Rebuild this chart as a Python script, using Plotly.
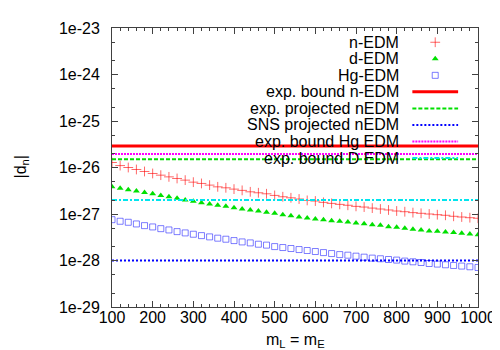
import plotly.graph_objects as go

# x grid: m_L = m_E
M = [100, 120, 140, 160, 180, 200, 220, 240, 260, 280, 300, 320, 340, 360, 380, 400,
     420, 440, 460, 480, 500, 520, 540, 560, 580, 600, 620, 640, 660, 680, 700,
     720, 740, 760, 780, 800, 820, 840, 860, 880, 900, 920, 940, 960, 980, 1000]

N_EDM = [1.28e-26, 1.10e-26, 1.00e-26, 9.06e-27, 8.21e-27, 7.44e-27, 6.84e-27, 6.29e-27,
         5.81e-27, 5.35e-27, 4.84e-27, 4.54e-27, 4.18e-27, 3.84e-27, 3.66e-27, 3.43e-27,
         3.22e-27, 3.00e-27, 2.86e-27, 2.72e-27, 2.51e-27, 2.35e-27, 2.23e-27, 2.10e-27,
         1.96e-27, 1.90e-27, 1.78e-27, 1.69e-27, 1.61e-27, 1.54e-27, 1.46e-27, 1.41e-27,
         1.34e-27, 1.28e-27, 1.22e-27, 1.16e-27, 1.12e-27, 1.07e-27, 1.035e-27, 1.00e-27,
         9.66e-28, 9.38e-28, 8.93e-28, 8.62e-28, 8.33e-28, 8.09e-28]

D_EDM = [3.84e-27, 3.60e-27, 3.31e-27, 3.11e-27, 2.91e-27, 2.72e-27, 2.51e-27, 2.35e-27,
         2.17e-27, 1.99e-27, 1.87e-27, 1.75e-27, 1.64e-27, 1.54e-27, 1.46e-27, 1.36e-27,
         1.28e-27, 1.22e-27, 1.16e-27, 1.09e-27, 1.035e-27, 9.66e-28, 9.20e-28, 8.62e-28,
         8.21e-28, 7.81e-28, 7.55e-28, 7.19e-28, 6.98e-28, 6.74e-28, 6.42e-28, 6.20e-28,
         5.90e-28, 5.73e-28, 5.35e-28, 5.19e-28, 4.94e-28, 4.70e-28, 4.54e-28, 4.33e-28,
         4.26e-28, 4.12e-28, 3.98e-28, 3.86e-28, 3.73e-28, 3.60e-28]

HG_EDM = [7.55e-28, 6.98e-28, 6.64e-28, 6.11e-28, 5.62e-28, 5.27e-28, 4.84e-28, 4.54e-28,
          4.18e-28, 3.92e-28, 3.67e-28, 3.43e-28, 3.22e-28, 3.02e-28, 2.87e-28, 2.68e-28,
          2.51e-28, 2.39e-28, 2.24e-28, 2.14e-28, 1.99e-28, 1.90e-28, 1.81e-28, 1.72e-28,
          1.64e-28, 1.56e-28, 1.48e-28, 1.41e-28, 1.34e-28, 1.30e-28, 1.24e-28, 1.18e-28,
          1.125e-28, 1.09e-28, 1.05e-28, 1.02e-28, 9.71e-29, 9.38e-29, 9.06e-29, 8.62e-29,
          8.37e-29, 8.09e-29, 7.82e-29, 7.59e-29, 7.33e-29, 7.08e-29]

# horizontal bounds
BOUND_N = 2.9e-26
PROJ_N = 1.5e-26
SNS_N = 1.0e-28
BOUND_HG = 1.95e-26
BOUND_D = 2.0e-27

Y_TICKS = [1e-23, 1e-24, 1e-25, 1e-26, 1e-27, 1e-28, 1e-29]
Y_TICKTEXT = ["1e-23", "1e-24", "1e-25", "1e-26", "1e-27", "1e-28", "1e-29"]
X_TICKS = [100, 200, 300, 400, 500, 600, 700, 800, 900, 1000]

RED, GREEN, BLUE, MAGENTA, CYAN = "#ff0000", "#00e000", "#0000ff", "#ff00ff", "#00e5ee"
FONT = "Liberation Sans, Arial, sans-serif"
AXC = "#404040"

PL, PR, PT, PB = 104, 28, 19, 51
W, H = 500, 350
PW, PH = W - PL - PR, H - PT - PB

POINTS = [
    ("n-EDM", N_EDM, dict(symbol="cross-thin", size=7, color="rgba(255,0,0,0.6)",
                          line=dict(color="rgba(255,0,0,0.6)", width=1))),
    ("d-EDM", D_EDM, dict(symbol="triangle-up", size=6, color=GREEN, line=dict(width=0))),
    ("Hg-EDM", HG_EDM, dict(symbol="square-open", size=6, color="rgba(40,40,255,0.6)",
                            line=dict(width=1))),
]
LINES = [
    ("exp. bound n-EDM", BOUND_N, dict(color=RED, width=3)),
    ("exp. projected nEDM", PROJ_N, dict(color=GREEN, width=2, dash="4px,2px")),
    ("SNS projected nEDM", SNS_N, dict(color=BLUE, width=2, dash="2px,2px")),
    ("exp. bound Hg EDM", BOUND_HG, dict(color=MAGENTA, width=2, dash="2px,1px")),
    ("exp. bound D EDM", BOUND_D, dict(color=CYAN, width=2, dash="5px,2px,2px,2px")),
]

fig = go.Figure()
for name, ys, mk in POINTS:
    fig.add_trace(go.Scatter(x=M, y=ys, mode="markers", name=name, marker=mk, showlegend=False))
for name, v, ln in LINES:
    fig.add_trace(go.Scatter(x=[M[0], M[-1]], y=[v, v], mode="lines", name=name, line=ln,
                             showlegend=False))

# gnuplot-style key: right-aligned text, sample to the right
row0, rowh = 33.3, 16.6
text_x = (395 - PL) / PW
s0, s1 = (406 - PL) / PW, (452 - PL) / PW
sm = (429 - PL) / PW
entries = [(n, "m", mk) for n, _, mk in POINTS] + [(n, "l", ln) for n, _, ln in LINES]
for i, (name, kind, st) in enumerate(entries):
    ypx = row0 + i * rowh
    yp = (H - PB - ypx) / PH
    fig.add_annotation(x=text_x, y=yp, xref="paper", yref="paper", text=name, showarrow=False,
                       xanchor="right", yanchor="middle", font=dict(size=16, color="black"))
    if kind == "m":
        fig.add_trace(go.Scatter(x=[sm], y=[yp], mode="markers", marker=st, showlegend=False,
                                 xaxis="x2", yaxis="y2", hoverinfo="skip"))
    else:
        fig.add_trace(go.Scatter(x=[s0, s1], y=[yp, yp], mode="lines", line=st, showlegend=False,
                                 xaxis="x2", yaxis="y2", hoverinfo="skip"))

fig.add_annotation(x=0.5, y=0, xref="paper", yref="paper", yshift=-33, showarrow=False,
                   text="m<sub>L</sub> = m<sub>E</sub>", yanchor="middle",
                   font=dict(size=16, color="black"))
fig.add_annotation(x=0, y=0.5, xref="paper", yref="paper", xshift=-91, showarrow=False,
                   text="|d<sub>n</sub>|", textangle=-90, xanchor="center",
                   font=dict(size=16, color="black"))

fig.update_layout(
    width=W, height=H,
    margin=dict(l=PL, r=PR, t=PT, b=PB),
    paper_bgcolor="white", plot_bgcolor="white",
    font=dict(family=FONT, size=16, color="black"),
    showlegend=False,
    xaxis=dict(range=[100, 1000], tickvals=X_TICKS, ticks="inside", ticklen=6,
               showline=True, linecolor=AXC, linewidth=1, mirror="allticks", showgrid=False,
               zeroline=False, tickcolor=AXC, ticklabelstandoff=-4,
               minor=dict(dtick=20, ticks="inside", ticklen=3, tickcolor=AXC, showgrid=False)),
    yaxis=dict(type="log", range=[-29, -23], tickvals=Y_TICKS, ticktext=Y_TICKTEXT,
               ticks="inside", ticklen=6, showline=True, linecolor=AXC, linewidth=1,
               mirror="allticks", showgrid=False, zeroline=False, tickcolor=AXC,
               ticklabelstandoff=8,
               minor=dict(dtick="D2", ticks="inside", ticklen=3, tickcolor=AXC, showgrid=False)),
    xaxis2=dict(overlaying="x", range=[0, 1], visible=False, fixedrange=True),
    yaxis2=dict(overlaying="y", range=[0, 1], visible=False, fixedrange=True),
)

fig.write_html("out.html")
